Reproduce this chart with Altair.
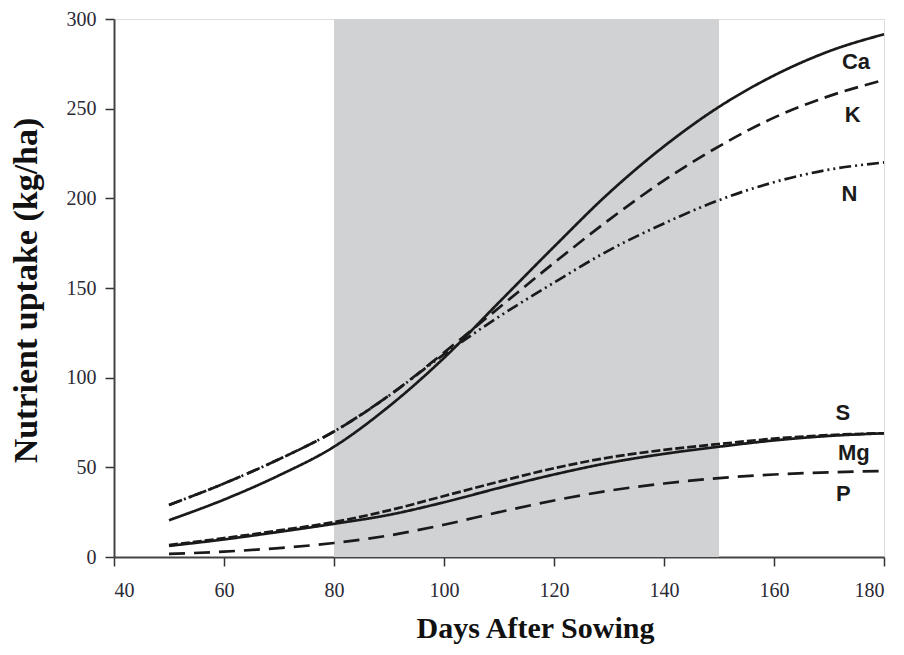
import altair as alt
import pandas as pd

days = [50, 60, 70, 80, 90, 100, 110, 120, 130, 140, 150, 160, 170, 180]
ca = [20.5, 32, 45.5, 61.5, 84, 111, 142, 173, 203, 229, 251, 268.5, 282, 291.5]
k = [29, 41, 54.5, 70, 90, 114, 139, 164, 188, 210, 229, 245, 257, 266]
n = [29, 41, 54.5, 70, 90, 113, 134, 153, 171, 186, 199, 209, 216, 220]
s = [6.7, 10.5, 14.8, 19.5, 26, 34, 42, 49.5, 55.5, 59.7, 63, 66, 68, 69]
mg = [6.2, 9.8, 14, 18.5, 23.5, 30.5, 38.5, 46, 52.5, 57.5, 61.5, 65, 67.5, 69]
p = [1.7, 3, 5, 7.8, 12, 18, 25, 31.5, 37, 41, 44, 46, 47.2, 48]

series_names = ["Ca", "K", "N", "S", "Mg", "P"]
series_values = [ca, k, n, s, mg, p]

label_names = ["Ca", "K", "N", "S", "Mg", "P"]
label_days = [174.9, 174.3, 173.7, 172.5, 174.5, 172.6]
label_values = [276, 246.5, 202.4, 80.5, 58, 35.4]

shade_start = [80]
shade_end = [150]

rows = []
for name, vals in zip(series_names, series_values):
    for d, v in zip(days, vals):
        rows.append({"day": d, "value": v, "nutrient": name})
df = pd.DataFrame(rows)

shade_df = pd.DataFrame({"start": shade_start, "end": shade_end})
lab_df = pd.DataFrame({"label": label_names, "day": label_days, "value": label_values})

W, H = 770, 538
xscale = alt.Scale(domain=[40, 180], nice=False, zero=False)
yscale = alt.Scale(domain=[0, 300], nice=False)

xaxis = alt.Axis(
    values=[40, 60, 80, 100, 120, 140, 160, 180],
    title="Days After Sowing",
    titleFont="Liberation Serif", titleFontSize=30, titleFontWeight="bold",
    titleColor="#111", titleX=421, titleY=56, titleAlign="center", titleBaseline="top",
    labelFont="Liberation Serif", labelFontSize=20, labelColor="#2a2a35",
    labelPadding=14, tickSize=9, tickColor="#333", tickWidth=1.5,
    domainColor="#444", domainWidth=2, grid=False,
)
yaxis = alt.Axis(
    values=[0, 50, 100, 150, 200, 250, 300],
    title="Nutrient uptake (kg/ha)",
    titleFont="Liberation Serif", titleFontSize=34, titleFontWeight="bold",
    titleColor="#111", titleX=-88, titleY=271, titleAngle=270,
    titleAlign="center", titleBaseline="middle",
    labelFont="Liberation Serif", labelFontSize=20, labelColor="#2a2a35",
    labelPadding=9, tickSize=9, tickColor="#333", tickWidth=1.5,
    domainColor="#444", domainWidth=2, grid=False,
)

shade = alt.Chart(shade_df).mark_rect(color="#d1d2d4").encode(
    x=alt.X("start:Q", scale=xscale, axis=xaxis),
    x2="end:Q",
    y=alt.value(0),
    y2=alt.value(H),
)

lines = alt.Chart(df).mark_line(strokeWidth=2.7, color="#1a1a1a", interpolate="monotone").encode(
    x=alt.X("day:Q", scale=xscale, axis=xaxis),
    y=alt.Y("value:Q", scale=yscale, axis=yaxis),
    detail="nutrient:N",
    strokeDash=alt.StrokeDash(
        "nutrient:N",
        scale=alt.Scale(
            domain=series_names,
            range=[[1, 0], [14, 7], [12, 4, 2, 4, 2, 4], [9, 3], [1, 0], [16, 9]],
        ),
        legend=None,
    ),
)

labels = alt.Chart(lab_df).mark_text(
    font="Liberation Sans", fontSize=22, fontWeight="bold", color="#1a1a1a",
    align="center", baseline="middle",
).encode(
    x=alt.X("day:Q", scale=xscale),
    y=alt.Y("value:Q", scale=yscale),
    text="label:N",
)

chart = alt.layer(shade, lines, labels).properties(
    width=W, height=H,
    autosize=alt.AutoSizeParams(type="none"),
    padding={"left": 106, "top": 11, "right": 12, "bottom": 90},
).configure_view(stroke="#444", strokeWidth=2).configure(background="white")

chart.save("out.html", embed_options={"renderer": "svg", "actions": False})
